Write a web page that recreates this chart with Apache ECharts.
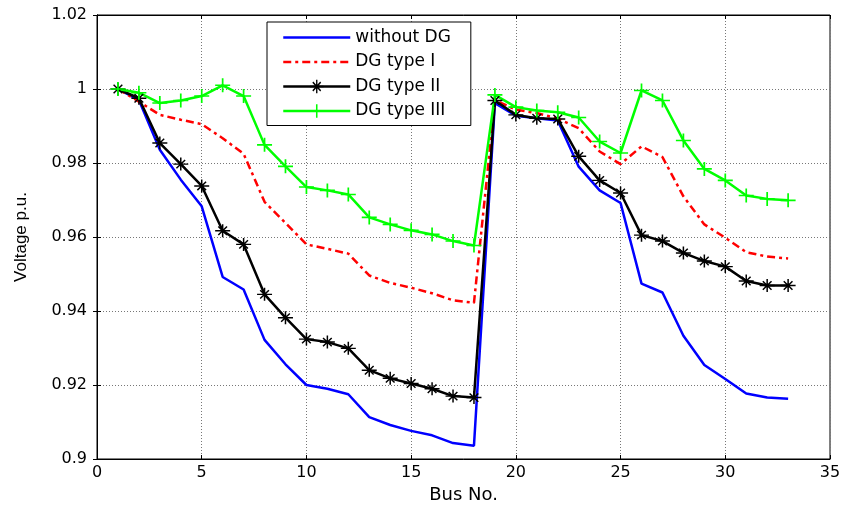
<!DOCTYPE html>
<html><head><meta charset="utf-8">
<script src="https://cdn.jsdelivr.net/npm/echarts@6/dist/echarts.min.js"></script>
<style>html,body{margin:0;padding:0;background:#fff}#c{width:856px;height:509px}</style>
</head><body><div id="c"></div>
<script>
const bus = [1,2,3,4,5,6,7,8,9,10,11,12,13,14,15,16,17,18,19,20,21,22,23,24,25,26,27,28,29,30,31,32,33];
const withoutDG = [1.000,0.997,0.9836,0.9755,0.9683,0.9492,0.9458,0.9322,0.9256,0.920,0.919,0.9175,0.9113,0.9092,0.9076,0.9064,0.9043,0.9036,0.9962,0.9928,0.9921,0.9915,0.9790,0.9726,0.9692,0.9474,0.9450,0.9333,0.9254,0.9216,0.9177,0.9166,0.9163];
const dgType1 = [1.000,0.9966,0.993,0.9917,0.9905,0.9867,0.9825,0.9695,0.9638,0.958,0.9568,0.9555,0.9496,0.9476,0.9463,0.9448,0.9429,0.9422,0.997,0.9944,0.9935,0.992,0.9894,0.9831,0.9797,0.9845,0.9816,0.971,0.9634,0.9598,0.9559,0.9547,0.9542];
const dgType2 = [1.000,0.9975,0.9854,0.9797,0.9738,0.9617,0.958,0.9445,0.9382,0.9324,0.9316,0.9299,0.924,0.9218,0.9204,0.919,0.917,0.9166,0.9969,0.993,0.9921,0.9919,0.9818,0.9753,0.9719,0.9605,0.9589,0.9557,0.9535,0.952,0.9481,0.9469,0.9469];
const dgType3 = [1.000,0.999,0.9962,0.9969,0.9981,1.001,0.9981,0.9849,0.9791,0.9735,0.9726,0.9715,0.9653,0.9634,0.9618,0.9607,0.9589,0.9577,0.9984,0.9951,0.9942,0.9937,0.9923,0.9858,0.9827,0.9996,0.9969,0.9861,0.9784,0.9753,0.9712,0.9703,0.9699];
const seriesNames = ['without DG','DG type I','DG type II','DG type III'];

const pair = arr => bus.map((b,i)=>[b,arr[i]]);
const WIDE = 'DejaVu Sans, Liberation Sans, Arial, sans-serif';
const NARROW = 'Liberation Sans, Arial, sans-serif';
const plusPath = 'path://M0,6.2 L14,6.2 L14,7.8 L0,7.8 Z M6.2,0 L7.8,0 L7.8,14 L6.2,14 Z';
const starPath = 'path://M0,9 L20,9 L20,11 L0,11 Z M9,1 L11,1 L11,19 L9,19 Z M3.5,4.9 L4.9,3.5 L16.5,15.1 L15.1,16.5 Z M15.1,3.5 L16.5,4.9 L4.9,16.5 L3.5,15.1 Z';

const chart = echarts.init(document.getElementById('c'), null, {renderer:'canvas'});
const tickInside = {show:true, inside:true, length:4, lineStyle:{color:'#000'}};
chart.setOption({
  animation:false,
  backgroundColor:'#fff',
  grid:{left:97, right:26, top:15, bottom:49, show:true, borderColor:'#000', borderWidth:1, backgroundColor:'transparent'},
  legend:{
    left:267, top:22, orient:'vertical', itemWidth:67, itemHeight:17, itemGap:7.5,
    backgroundColor:'#fff', borderColor:'#000', borderWidth:1, padding:[7,20,6,15],
    textStyle:{fontFamily:WIDE, fontSize:17, color:'#000', lineHeight:17},
    lineStyle:{width:2.5},
    data:[
      {name:seriesNames[0], itemStyle:{opacity:0}},
      {name:seriesNames[1], itemStyle:{opacity:0}},
      {name:seriesNames[2]},
      {name:seriesNames[3]}
    ]
  },
  xAxis:[{
    type:'value', min:0, max:35, interval:5,
    name:'Bus No.', nameLocation:'middle', nameGap:27,
    nameTextStyle:{fontFamily:WIDE, fontSize:18, color:'#000'},
    axisLine:{show:true, lineStyle:{color:'#000'}},
    axisTick:tickInside,
    axisLabel:{fontFamily:WIDE, fontSize:16, color:'#000', margin:6},
    splitLine:{show:true, lineStyle:{color:'#777', type:[1,2], width:1}}
  },{
    type:'value', min:0, max:35, interval:5, position:'top',
    axisLine:{show:true, lineStyle:{color:'#000'}}, axisTick:tickInside, axisLabel:{show:false}, splitLine:{show:false}
  }],
  yAxis:[{
    type:'value', min:0.9, max:1.02, interval:0.02,
    name:'Voltage p.u.', nameLocation:'middle', nameGap:67,
    nameTextStyle:{fontFamily:NARROW, fontSize:17, color:'#000'},
    axisLine:{show:true, lineStyle:{color:'#000'}},
    axisTick:tickInside,
    axisLabel:{fontFamily:WIDE, fontSize:16, color:'#000', margin:10, formatter:v=>String(parseFloat(v.toFixed(2)))},
    splitLine:{show:true, lineStyle:{color:'#777', type:[1,2], width:1}}
  },{
    type:'value', min:0.9, max:1.02, interval:0.02, position:'right',
    axisLine:{show:true, lineStyle:{color:'#000'}}, axisTick:tickInside, axisLabel:{show:false}, splitLine:{show:false}
  }],
  series:[
    {name:seriesNames[0], type:'line', data:pair(withoutDG), symbol:'none', lineStyle:{color:'#0000ff', width:2.5}, itemStyle:{color:'#0000ff'}},
    {name:seriesNames[1], type:'line', data:pair(dgType1), symbol:'none', lineStyle:{color:'#ff0000', width:2.5, type:[8,4,3,4]}, itemStyle:{color:'#ff0000'}},
    {name:seriesNames[2], type:'line', data:pair(dgType2), symbol:starPath, symbolSize:[15,13], showAllSymbol:true, lineStyle:{color:'#000', width:2.5}, itemStyle:{color:'#000'}},
    {name:seriesNames[3], type:'line', data:pair(dgType3), symbol:plusPath, symbolSize:[15,14], showAllSymbol:true, lineStyle:{color:'#00ff00', width:2.5}, itemStyle:{color:'#00ff00'}}
  ]
});
</script></body></html>
